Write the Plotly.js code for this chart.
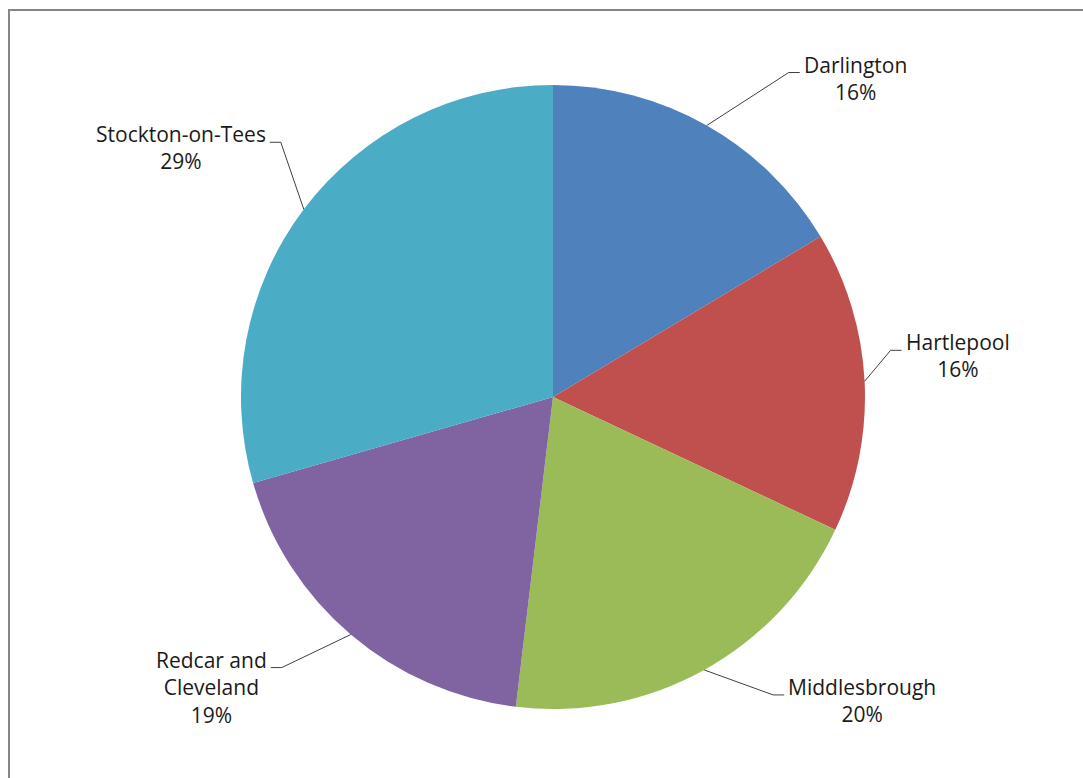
<!DOCTYPE html>
<html>
<head>
<meta charset="utf-8">
<script src="https://cdn.plot.ly/plotly-3.0.1.min.js"></script>
<style>
html,body{margin:0;padding:0;background:#fff;}
#chart{width:1083px;height:778px;}
</style>
</head>
<body>
<div id="chart"></div>
<script>
// ---- data ----
const categories = ["Darlington", "Hartlepool", "Middlesbrough", "Redcar and Cleveland", "Stockton-on-Tees"];
const labelText = ["Darlington", "Hartlepool", "Middlesbrough", "Redcar and<br>Cleveland", "Stockton-on-Tees"];
const values = [16.4, 15.6, 19.9, 18.65, 29.45];
const colors = ["#4F81BD", "#C0504D", "#9BBB59", "#8064A2", "#4BACC6"];

// ---- layout config (pixels) ----
const W = 1083, H = 778;
const CX = 553, CY = 397, R = 312;
// elbow offset of each leader line from the slice edge point, and side of label
const elbowOffset = [[82, -53], [26, -31], [69, 25], [-69, 33], [-23, -67]];
const segLen = 11;

const px = x => x / W;
const py = y => 1 - y / H;

const total = values.reduce((a, b) => a + b, 0);
const shapes = [];
const annotations = [];
let cum = 0;
values.forEach((v, i) => {
  const mid = (cum + v / 2) / total * 2 * Math.PI;
  cum += v;
  const ex = CX + R * Math.sin(mid), ey = CY - R * Math.cos(mid);
  const bx = ex + elbowOffset[i][0], by = ey + elbowOffset[i][1];
  const right = elbowOffset[i][0] > 0;
  const hx = bx + (right ? segLen : -segLen);
  shapes.push({
    type: "path", xref: "paper", yref: "paper",
    path: `M ${px(ex)} ${py(ey)} L ${px(bx)} ${py(by)} L ${px(hx)} ${py(by)}`,
    line: {color: "#404040", width: 1}
  });
  annotations.push({
    xref: "paper", yref: "paper",
    x: px(hx + (right ? 2 : -2)), y: py(by - 24),
    xanchor: right ? "left" : "right", yanchor: "top",
    align: "center", showarrow: false,
    text: labelText[i] + "<br>" + Math.round(v / total * 100) + "%",
    font: {family: "Open Sans, sans-serif", size: 21, color: "#1a1a1a"}
  });
});

// chart border
shapes.push({
  type: "rect", xref: "paper", yref: "paper",
  x0: px(9), x1: 1.05, y0: -0.05, y1: py(10),
  line: {color: "#868686", width: 2}
});

const trace = {
  type: "pie",
  labels: categories,
  values: values,
  sort: false,
  direction: "clockwise",
  rotation: 0,
  textinfo: "none",
  hoverinfo: "label+percent",
  marker: {colors: colors, line: {width: 0}},
  domain: {x: [px(CX - R), px(CX + R)], y: [py(CY + R), py(CY - R)]},
  showlegend: false
};

Plotly.newPlot("chart", [trace], {
  width: W, height: H,
  margin: {l: 0, r: 0, t: 0, b: 0},
  paper_bgcolor: "#ffffff",
  showlegend: false,
  shapes: shapes,
  annotations: annotations
}, {displayModeBar: false, staticPlot: true});
</script>
</body>
</html>
